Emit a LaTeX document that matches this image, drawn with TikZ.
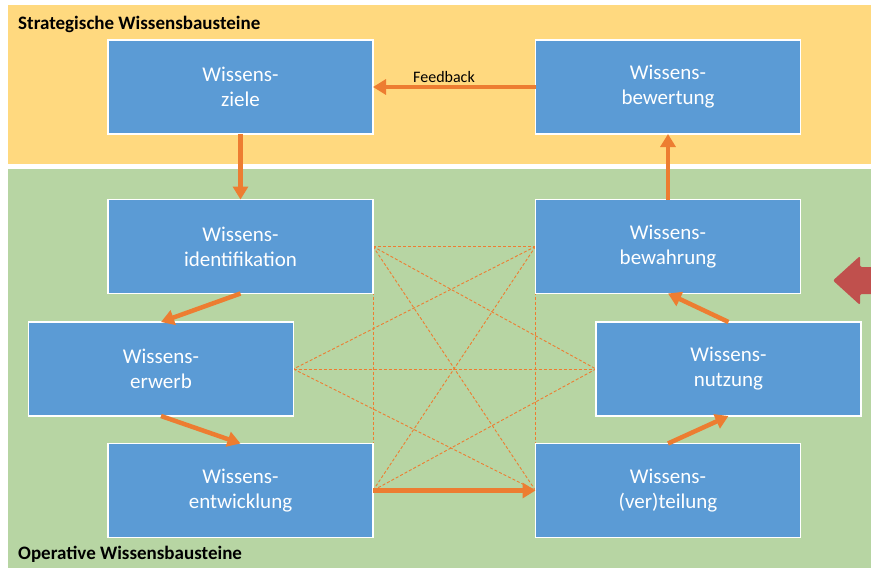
\documentclass[tikz,border=0pt]{standalone}
\usepackage{fontspec}
\setmainfont{Carlito}
\usetikzlibrary{arrows.meta}
\definecolor{yband}{HTML}{FFD97F}
\definecolor{gband}{HTML}{B7D5A3}
\definecolor{bbox}{HTML}{5B9BD5}
\definecolor{orng}{HTML}{ED7D31}
\definecolor{redar}{HTML}{C0504D}
\tikzset{
  block/.style={draw=white, line width=1.5pt, fill=bbox, minimum width=265pt, minimum height=94pt,
    text=white, align=center, font=\fontsize{21}{25}\selectfont, outer sep=0pt, inner sep=0pt},
  flow/.style={draw=orng, line width=4.5pt, -{Triangle[length=13pt,width=15pt]}, shorten >=0pt},
  link/.style={draw=orng, line width=0.9pt, dash pattern=on 3pt off 2pt},
  band/.style={font=\bfseries\fontsize{19}{22}\selectfont, anchor=west, text=black, inner sep=0pt}
}
\begin{document}
\begin{tikzpicture}[x=1pt,y=-1pt]
\useasboundingbox (0,0) rectangle (871,568);
\fill[white] (0,0) rectangle (871,568);
\fill[yband] (8,5) rectangle (871,164);
\fill[gband] (8,169) rectangle (871,568);
\node[band] (tstrat) at (18,24) {Strategische Wissensbausteine};
\node[band] (topera) at (18,554) {Operative Wissensbausteine};
% nodes
\node[block] (ziele) at (240.5,87) {Wissens-\\ziele};
\node[block] (bewertung) at (668,87) {Wissens-\\bewertung};
\node[block] (ident) at (240.5,246.5) {Wissens-\\identifikation};
\node[block] (bewahrung) at (668,246.5) {Wissens-\\bewahrung};
\node[block] (erwerb) at (161,369) {Wissens-\\erwerb};
\node[block] (nutzung) at (728.5,369) {Wissens-\\nutzung};
\node[block] (entw) at (240.5,490.5) {Wissens-\\entwicklung};
\node[block] (vert) at (668,490.5) {Wissens-\\(ver)teilung};
% dashed links (behind boxes)
\begin{scope}[on background layer/.style={}]
\end{scope}
\path[link] (ident.east) -- (bewahrung.west);
\path[link] (ident.east) -- (entw.east);
\path[link] (ident.east) -- (nutzung.west);
\path[link] (ident.east) -- (vert.west);
\path[link] (bewahrung.west) -- (erwerb.east);
\path[link] (bewahrung.west) -- (entw.east);
\path[link] (bewahrung.west) -- (vert.west);
\path[link] (erwerb.east) -- (nutzung.west);
\path[link] (erwerb.east) -- (vert.west);
\path[link] (nutzung.west) -- (entw.east);
% redraw boxes on top of dashed lines
\node[block] at (240.5,246.5) {Wissens-\\identifikation};
\node[block] at (668,246.5) {Wissens-\\bewahrung};
\node[block] at (161,369) {Wissens-\\erwerb};
\node[block] at (728.5,369) {Wissens-\\nutzung};
\node[block] at (240.5,490.5) {Wissens-\\entwicklung};
\node[block] at (668,490.5) {Wissens-\\(ver)teilung};
% flow arrows
\draw[flow] (bewertung.west) -- (ziele.east);
\node[font=\fontsize{16}{18}\selectfont, text=black] (fb) at (444,77) {Feedback};
\draw[flow] (ziele.south) -- (ident.north);
\draw[flow] (ident.south) -- (erwerb.north);
\draw[flow] (erwerb.south) -- (entw.north);
\draw[flow] (entw.east) -- (vert.west);
\draw[flow] (vert.north) -- (nutzung.south);
\draw[flow] (nutzung.north) -- (bewahrung.south);
\draw[flow] (bewahrung.north) -- (bewertung.south);
% red arrow at right edge
\begin{scope}
\clip (0,0) rectangle (871,568);
\fill[redar, rounded corners=2pt] (880,267) -- (860,267) -- (860,256) -- (833,280.5) -- (860,305) -- (860,294) -- (880,294) -- cycle;
\end{scope}
\end{tikzpicture}
\end{document}
